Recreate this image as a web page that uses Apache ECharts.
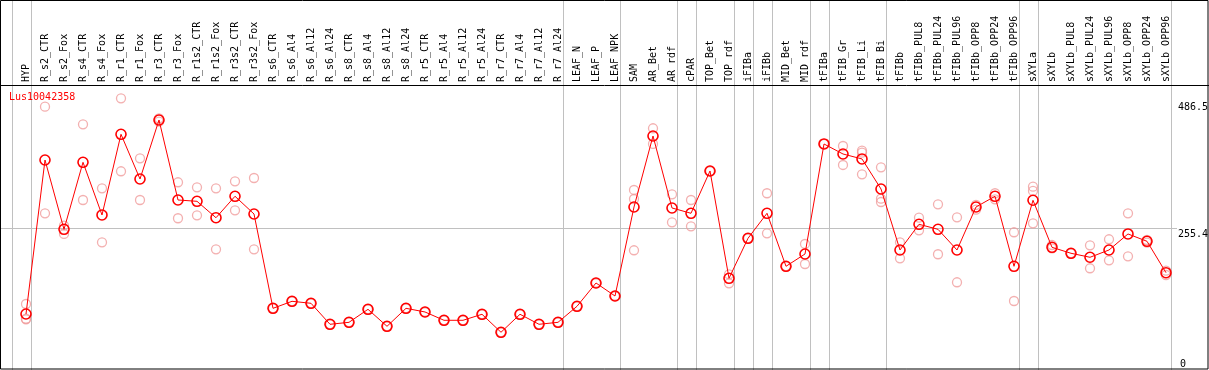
<!DOCTYPE html>
<html>
<head>
<meta charset="utf-8">
<script src="https://cdn.jsdelivr.net/npm/echarts@6/dist/echarts.min.js"></script>
<style>
html,body{margin:0;padding:0;background:#fff;}
#chart{width:1209px;height:370px;}
</style>
</head>
<body>
<div id="chart"></div>
<script>
const categories = ["HYP","R_s2_CTR","R_s2_Fox","R_s4_CTR","R_s4_Fox","R_r1_CTR","R_r1_Fox","R_r3_CTR","R_r3_Fox","R_r1s2_CTR","R_r1s2_Fox","R_r3s2_CTR","R_r3s2_Fox","R_s6_CTR","R_s6_Al4","R_s6_Al12","R_s6_Al24","R_s8_CTR","R_s8_Al4","R_s8_Al12","R_s8_Al24","R_r5_CTR","R_r5_Al4","R_r5_Al12","R_r5_Al24","R_r7_CTR","R_r7_Al4","R_r7_Al12","R_r7_Al24","LEAF_N","LEAF_P","LEAF_NPK","SAM","AR_Bet","AR_rdf","cPAR","TOP_Bet","TOP_rdf","iFIBa","iFIBb","MID_Bet","MID_rdf","tFIBa","tFIB_Gr","tFIB_Li","tFIB_Bi","tFIBb","tFIBb_PUL8","tFIBb_PUL24","tFIBb_PUL96","tFIBb_OPP8","tFIBb_OPP24","tFIBb_OPP96","sXYLa","sXYLb","sXYLb_PUL8","sXYLb_PUL24","sXYLb_PUL96","sXYLb_OPP8","sXYLb_OPP24","sXYLb_OPP96"];

const meanValues = [98.7,380.2,253.5,376.0,279.7,427.2,345.5,453.3,307.1,304.7,274.7,313.9,281.5,109.1,121.9,118.3,79.9,83.5,107.3,76.2,109.1,102.4,87.2,87.2,98.2,65.3,98.2,79.9,83.5,112.8,155.4,131.6,294.3,424.1,292.5,282.8,360.1,164.0,237.1,282.8,185.9,208.4,409.5,391.2,382.1,327.2,215.7,262.7,253.5,215.7,294.3,313.9,185.9,306.6,220.6,209.7,202.4,215.7,245.0,231.6,174.2];

const replicateValues = [
  [117.0,90.0,89.0],[477.7,282.8],[260.1,245.0],[445.5,307.1],[328.5,229.8],
  [493.0,359.6],[383.3,307.1],[456.4,450.2],[339.5,273.7],[330.3,279.1],
  [328.5,217.0],[341.3,288.3],[347.3,217.0],
  [109.1,109.1],[121.9,121.9],[118.3,118.3],[79.9,79.9],[83.5,83.5],[107.3,107.3],[76.2,76.2],[109.1,109.1],
  [102.4,102.4],[87.2,87.2],[87.2,87.2],[98.2,98.2],[65.3,65.3],[98.2,98.2],[79.9,79.9],[83.5,83.5],
  [112.8,112.8],[155.4,155.4],[131.6,131.6],
  [325.4,308.9,215.2],[438.2,409.5],[317.5,266.3],[307.1,259.0],[360.1,360.1],[171.3,154.8],
  [237.1,237.1],[319.4,246.2],[185.9,185.9],[226.7,190.1],[409.5,409.5],
  [405.8,371.1],[397.2,393.6,354.1],[366.9,309.5,303.4],
  [229.8,200.5],[274.7,251.7],[299.2,207.9],[275.5,156.7],[298.0,289.4],[319.4,308.4],[248.1,122.5],
  [331.4,323.6,264.5],[224.8,218.8],[209.7,209.7],[224.2,182.3],[235.3,196.9],[282.8,204.2],[234.0,229.1],[177.9,170.0]
];

const yTickValues = [486.5, 255.4, 0];
const yGridValue = 255.4;
const groupBreaks = [-1,0,28,31,34,35,37,38,39,41,42,45,52,53,60];
const geneName = "Lus10042358";

const MONO = "DejaVu Sans Mono";
const chart = echarts.init(document.getElementById('chart'), null, {renderer:'canvas'});

const repData = [];
replicateValues.forEach((arr, i) => arr.forEach(v => repData.push([i, v])));

chart.setOption({
  animation: false,
  backgroundColor: '#ffffff',
  grid: {left: 16.5, width: 1159, top: 85, height: 283, containLabel: false},
  xAxis: {
    type: 'category', data: categories, position: 'top', boundaryGap: true,
    axisLine: {show: false}, axisTick: {show: false}, splitLine: {show: false},
    axisLabel: {rotate: 90, margin: 3, interval: 0, fontFamily: MONO, fontSize: 10, color: '#000'}
  },
  yAxis: {
    type: 'value', min: 0, max: 517.3, show: false
  },
  series: [
    {
      type: 'scatter', data: repData, symbol: 'circle', symbolSize: 9, z: 2,
      itemStyle: {color: 'rgba(255,255,255,0)', borderColor: '#f09c9c', borderWidth: 1.3}
    },
    {
      type: 'line', data: meanValues, symbol: 'circle', symbolSize: 10, z: 3,
      showAllSymbol: true,
      lineStyle: {color: '#ff0000', width: 1},
      itemStyle: {color: 'rgba(255,255,255,0)', borderColor: '#ff0000', borderWidth: 1.6}
    }
  ]
});

const px = i => chart.convertToPixel({xAxisIndex: 0}, i);
const py = v => chart.convertToPixel({yAxisIndex: 0}, v);
const step = px(1) - px(0);
const graphics = [];
groupBreaks.forEach(g => {
  const x = Math.round(px(g) + step * 0.24) + 0.5;
  graphics.push({type: 'line', shape: {x1: x, y1: 0, x2: x, y2: 370}, style: {stroke: '#c0c0c0', lineWidth: 1}, z: 1});
});
const gy = Math.round(py(yGridValue)) + 0.5;
graphics.push({type: 'line', shape: {x1: 1, y1: gy, x2: 1177, y2: gy}, style: {stroke: '#c0c0c0', lineWidth: 1}, z: 1});
graphics.push({type: 'line', shape: {x1: 0, y1: 85.5, x2: 1209, y2: 85.5}, style: {stroke: '#000', lineWidth: 1}, z: 5});
graphics.push({type: 'rect', shape: {x: 0.5, y: 0.5, width: 1207.5, height: 368.5}, style: {fill: 'none', stroke: '#000', lineWidth: 1}, z: 5});
yTickValues.forEach(v => {
  let y = py(v);
  if (y > 358) y = 358;
  graphics.push({type: 'text', x: v === 0 ? 1180 : 1178, y: y + 1, style: {text: String(v), font: '10px ' + MONO, fill: '#000', verticalAlign: 'top'}, z: 6});
});
graphics.push({type: 'text', x: 9, y: 92, style: {text: geneName, font: '10px ' + MONO, fill: '#ff0000', verticalAlign: 'top'}, z: 6});
chart.setOption({graphic: {elements: graphics}});
</script>
</body>
</html>
